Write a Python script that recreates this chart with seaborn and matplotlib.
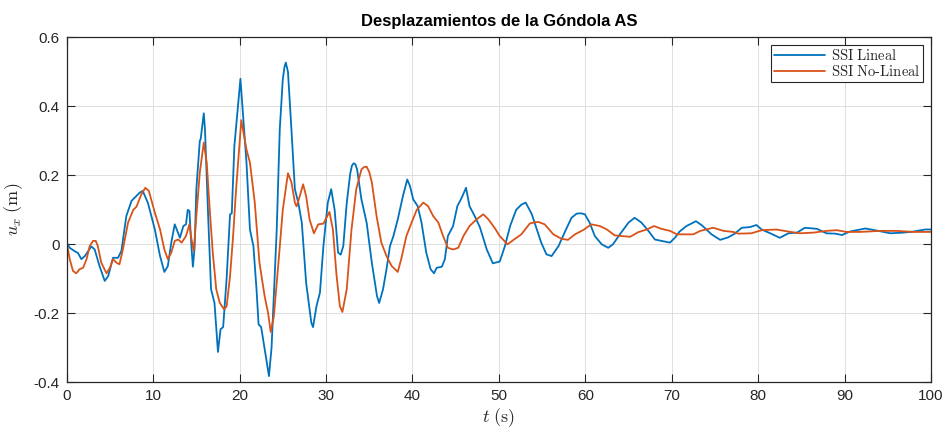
import numpy as np
import pandas as pd
import matplotlib
matplotlib.use("Agg")
import matplotlib.pyplot as plt
import seaborn as sns

# Time (s) and horizontal displacement (m) of the gondola
t_lineal = [0.0, 0.35, 0.93, 1.3, 1.7, 2.1, 2.85, 3.24, 3.8, 4.4, 4.8, 5.36, 5.94, 6.33, 6.9, 7.5,
            8.45, 8.8, 9.4, 10.2, 10.8, 11.3, 11.7, 12.1, 12.5, 13.1, 13.5, 13.8, 14.0, 14.2, 14.4,
            14.6, 14.8, 15.0, 15.4, 15.5, 15.86, 16.0, 16.35, 16.7, 17.1, 17.5, 17.8, 18.1, 18.5,
            18.9, 19.1, 19.4, 20.1, 20.8, 21.2, 21.6, 21.96, 22.2, 22.5, 22.9, 23.4, 23.7, 24.3,
            24.65, 25.0, 25.2, 25.35, 25.6, 26.0, 26.4, 26.8, 27.2, 27.7, 28.3, 28.5, 28.9, 29.3,
            29.7, 30.2, 30.6, 31.0, 31.4, 31.7, 32.0, 32.4, 32.8, 33.0, 33.2, 33.4, 33.6, 34.1,
            34.7, 35.3, 35.9, 36.15, 36.6, 37.0, 37.4, 37.8, 38.3, 38.9, 39.4, 39.7, 40.1, 40.6,
            41.05, 41.6, 42.1, 42.5, 42.8, 43.4, 43.75, 44.1, 44.7, 45.2, 45.7, 46.2, 46.6, 47.2,
            47.8, 48.6, 49.3, 50.1, 50.7, 51.3, 52.0, 52.6, 53.1, 53.8, 54.4, 54.9, 55.5, 56.1,
            56.9, 57.6, 58.4, 59.0, 59.5, 59.95, 60.5, 61.1, 61.9, 62.65, 63.2, 64.0, 65.0, 65.7,
            66.5, 67.3, 68.05, 68.8, 69.8, 70.4, 70.9, 71.7, 72.8, 73.5, 74.6, 75.6, 76.5, 77.3,
            78.1, 79.05, 79.8, 80.4, 81.4, 82.5, 83.5, 84.5, 85.4, 86.8, 87.9, 88.9, 89.7, 90.6,
            92.4, 93.7, 95.3, 96.8, 97.95, 99.3, 100.0]
u_lineal = [0.005, -0.01, -0.02, -0.025, -0.043, -0.034, -0.006, -0.015, -0.063, -0.106, -0.092,
            -0.039, -0.039, -0.019, 0.082, 0.126, 0.15, 0.155, 0.12, 0.043, -0.034, -0.08, -0.063,
            0.005, 0.058, 0.019, 0.053, 0.058, 0.10, 0.097, 0.005, -0.065, -0.01, 0.16, 0.30, 0.305,
            0.38, 0.333, 0.092, -0.13, -0.17, -0.312, -0.246, -0.24, -0.10, 0.087, 0.09, 0.285,
            0.48, 0.237, 0.043, -0.005, -0.13, -0.232, -0.24, -0.304, -0.382, -0.30, 0.043, 0.333,
            0.478, 0.515, 0.527, 0.5, 0.333, 0.16, 0.12, 0.063, -0.111, -0.227, -0.24, -0.179,
            -0.14, -0.005, 0.12, 0.16, 0.10, -0.024, -0.03, -0.005, 0.12, 0.205, 0.228, 0.235,
            0.232, 0.217, 0.13, 0.063, -0.053, -0.15, -0.17, -0.13, -0.072, -0.005, 0.024, 0.072,
            0.14, 0.188, 0.17, 0.13, 0.111, 0.063, -0.024, -0.072, -0.084, -0.068, -0.065, -0.043,
            0.024, 0.053, 0.111, 0.135, 0.164, 0.111, 0.082, 0.05, -0.015, -0.055, -0.05, -0.005,
            0.053, 0.10, 0.115, 0.121, 0.088, 0.043, 0.005, -0.029, -0.034, -0.005, 0.034, 0.077,
            0.089, 0.09, 0.087, 0.063, 0.024, 0.0, -0.01, 0.0, 0.029, 0.063, 0.077, 0.063, 0.039,
            0.014, 0.01, 0.005, 0.02, 0.037, 0.053, 0.067, 0.055, 0.029, 0.013, 0.02, 0.031, 0.048,
            0.05, 0.056, 0.043, 0.032, 0.019, 0.032, 0.034, 0.048, 0.045, 0.032, 0.031, 0.027,
            0.037, 0.046, 0.04, 0.032, 0.034, 0.037, 0.043, 0.043]

t_nolineal = [0.0, 0.35, 0.73, 1.1, 1.5, 1.9, 2.3, 2.66, 3.05, 3.36, 3.6, 4.0, 4.6, 5.0, 5.36, 5.75,
              6.1, 6.5, 7.1, 7.7, 8.07, 8.64, 9.1, 9.5, 10.2, 10.8, 11.3, 11.7, 12.1, 12.5, 12.9,
              13.3, 13.8, 14.2, 14.4, 14.7, 15.0, 15.4, 15.86, 16.2, 16.55, 16.9, 17.3, 17.7, 18.2,
              18.5, 18.9, 19.25, 19.6, 20.0, 20.2, 20.8, 21.2, 21.76, 22.3, 22.9, 23.3, 23.6, 23.96,
              24.5, 25.0, 25.6, 26.0, 26.4, 26.6, 26.97, 27.35, 27.7, 28.1, 28.6, 29.1, 29.7, 30.4,
              30.8, 31.2, 31.6, 31.9, 32.4, 32.95, 33.5, 34.1, 34.4, 34.7, 35.0, 35.3, 35.85, 36.4,
              37.0, 37.6, 38.3, 38.7, 39.3, 39.9, 40.5, 41.25, 41.8, 42.4, 43.0, 43.55, 44.1, 44.7,
              45.3, 45.9, 46.6, 47.4, 48.2, 48.8, 49.5, 50.1, 51.0, 51.7, 52.6, 53.6, 54.55, 55.3,
              56.3, 57.25, 58.0, 58.8, 59.8, 60.7, 61.7, 62.5, 63.4, 64.2, 65.2, 66.1, 67.1, 67.95,
              68.8, 69.8, 70.6, 71.7, 72.5, 73.3, 74.8, 76.0, 77.1, 77.7, 79.2, 80.4, 82.1, 83.5,
              84.8, 86.4, 87.9, 89.1, 90.2, 91.8, 94.1, 96.0, 97.95, 100.0]
u_nolineal = [0.005, -0.043, -0.077, -0.084, -0.072, -0.068, -0.043, -0.005, 0.01, 0.01, -0.005,
              -0.053, -0.084, -0.068, -0.043, -0.053, -0.058, -0.015, 0.063, 0.10, 0.109, 0.145,
              0.164, 0.155, 0.092, 0.043, -0.015, -0.043, -0.024, 0.01, 0.014, 0.005, 0.024, 0.058,
              0.02, -0.019, 0.082, 0.208, 0.295, 0.237, 0.10, -0.024, -0.13, -0.169, -0.188, -0.18,
              -0.092, 0.024, 0.16, 0.295, 0.36, 0.275, 0.237, 0.121, -0.053, -0.15, -0.199, -0.254,
              -0.21, -0.053, 0.10, 0.206, 0.18, 0.121, 0.11, 0.14, 0.174, 0.14, 0.072, 0.032, 0.058,
              0.06, 0.094, 0.043, -0.085, -0.179, -0.196, -0.13, 0.043, 0.16, 0.217, 0.224, 0.225,
              0.21, 0.18, 0.082, 0.005, -0.034, -0.063, -0.08, -0.043, 0.024, 0.063, 0.10, 0.121,
              0.111, 0.082, 0.063, 0.024, -0.01, -0.015, -0.01, 0.024, 0.053, 0.072, 0.087, 0.072,
              0.048, 0.024, 0.0, 0.013, 0.029, 0.061, 0.065, 0.058, 0.029, 0.016, 0.013, 0.029,
              0.042, 0.058, 0.053, 0.043, 0.026, 0.024, 0.022, 0.035, 0.043, 0.053, 0.045, 0.039,
              0.029, 0.029, 0.029, 0.039, 0.048, 0.039, 0.036, 0.031, 0.032, 0.041, 0.043, 0.037,
              0.032, 0.034, 0.039, 0.041, 0.036, 0.036, 0.039, 0.039, 0.036, 0.036]

series_names = ["SSI Lineal", "SSI No-Lineal"]
series_colors = ["#0072BD", "#D95319"]

x_ticks = [0, 10, 20, 30, 40, 50, 60, 70, 80, 90, 100]
y_ticks = [-0.4, -0.2, 0.0, 0.2, 0.4, 0.6]
y_tick_labels = ["-0.4", "-0.2", "0", "0.2", "0.4", "0.6"]

sns.set_theme(style="white")
plt.rcParams["font.family"] = ["Liberation Sans", "DejaVu Sans"]
plt.rcParams["mathtext.fontset"] = "cm"
plt.rcParams["axes.unicode_minus"] = False

df = pd.concat([
    pd.DataFrame({"t": t_lineal, "u": u_lineal, "serie": series_names[0]}),
    pd.DataFrame({"t": t_nolineal, "u": u_nolineal, "serie": series_names[1]}),
], ignore_index=True)

fig = plt.figure(figsize=(9.46, 4.32), dpi=100)
ax = fig.add_axes([0.0705, 0.115, 0.9137, 0.7985])

sns.lineplot(data=df, x="t", y="u", hue="serie", hue_order=series_names,
             palette=series_colors, estimator=None, sort=False, linewidth=1.3,
             legend=False, ax=ax)

ax.set_xlim(0, 100)
ax.set_ylim(-0.4, 0.6)
ax.set_xticks(x_ticks)
ax.set_xticklabels([str(v) for v in x_ticks])
ax.set_yticks(y_ticks)
ax.set_yticklabels(y_tick_labels)

ax.grid(True, color="#dedede", linewidth=0.7)
ax.set_axisbelow(True)
for side in ["left", "right", "top", "bottom"]:
    ax.spines[side].set_visible(True)
    ax.spines[side].set_color("#262626")
    ax.spines[side].set_linewidth(0.9)

ax.tick_params(axis="both", which="both", direction="in", length=6, width=0.8,
               color="#262626", labelcolor="#262626", labelsize=11,
               top=True, right=True, bottom=True, left=True, pad=5)

ax.set_title("Desplazamientos de la Góndola AS", fontsize=12, fontweight="bold",
             color="black", pad=8)
ax.set_xlabel(r"$t\ (\mathrm{s})$", fontsize=13, labelpad=2, color="#262626")
ax.set_ylabel(r"$u_x\ (\mathrm{m})$", fontsize=13, labelpad=6, color="#262626")

handles = [plt.Line2D([], [], color=c, linewidth=1.3) for c in series_colors]
labels = [r"$\mathrm{SSI\ Lineal}$", r"$\mathrm{SSI\ No\text{-}Lineal}$"]
leg = ax.legend(handles, labels, loc="upper right", fontsize=10.5, frameon=True,
                fancybox=False, edgecolor="#262626", framealpha=1.0,
                handlelength=3.5, handletextpad=0.35, borderpad=0.2,
                labelspacing=0.05, borderaxespad=0.55)
leg.get_frame().set_linewidth(0.8)

fig.savefig("out.png", dpi=100)
